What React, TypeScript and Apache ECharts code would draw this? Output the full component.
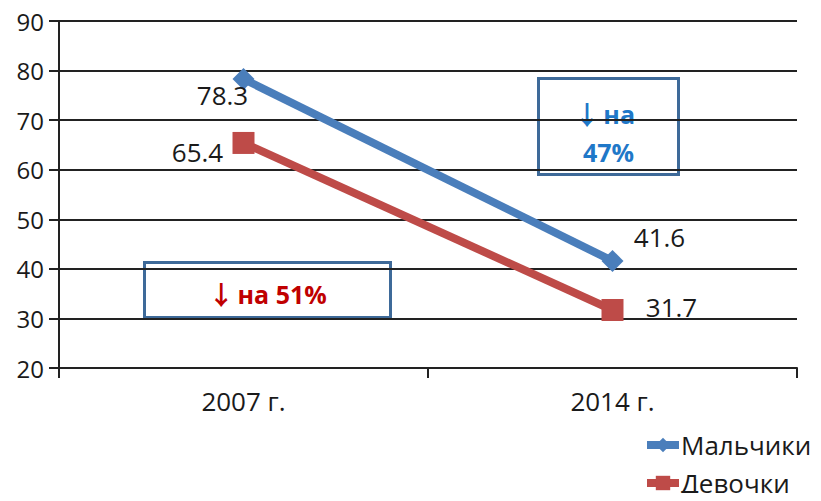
import React, { useEffect, useRef } from "react";
import * as echarts from "echarts";

const categories = ["2007 г.", "2014 г."];
const boys = [78.3, 41.6];
const girls = [65.4, 31.7];
const boysLabelOffsets = [[-21, 16], [47, -24]];
const girlsLabelOffsets = [[-46, 9], [59, -3]];
const yTicks = { min: 20, max: 90, interval: 10 };

const FONT = "'Open Sans', 'Noto Sans', sans-serif";
const ARROW_FONT = "'Noto Sans CJK SC', 'DejaVu Sans', sans-serif";

export default function App() {
  const ref = useRef<HTMLDivElement>(null);
  useEffect(() => {
    if (!ref.current) return;
    const chart = echarts.init(ref.current, null, { renderer: "svg" });
    const mk = (vals: number[], offs: number[][]) =>
      vals.map((v, i) => ({
        value: v,
        label: {
          show: true,
          position: "inside",
          offset: offs[i],
          formatter: String(v),
          color: "#1a1a1a",
          fontSize: 26,
          fontFamily: FONT,
        },
      }));
    const legendText = { fontSize: 26, color: "#1a1a1a", fontFamily: FONT, padding: [0, 0, 0, -3] };
    chart.setOption({
      animation: false,
      textStyle: { fontFamily: FONT },
      grid: { left: 59, right: 24, top: 21, bottom: 133, containLabel: false },
      xAxis: {
        type: "category",
        data: categories,
        boundaryGap: true,
        axisLine: { lineStyle: { color: "#222", width: 2 } },
        axisTick: { show: true, length: 10, lineStyle: { color: "#222", width: 2 } },
        axisLabel: { color: "#1a1a1a", fontSize: 26, margin: 20, fontFamily: FONT },
      },
      yAxis: {
        type: "value",
        min: yTicks.min,
        max: yTicks.max,
        interval: yTicks.interval,
        axisLine: { show: true, lineStyle: { color: "#222", width: 2 } },
        axisTick: { show: true, length: 10, lineStyle: { color: "#222", width: 2 } },
        axisLabel: { color: "#1a1a1a", fontSize: 24, margin: 15, fontFamily: FONT },
        splitLine: { show: true, lineStyle: { color: "#222", width: 2 } },
      },
      legend: [
        {
          orient: "vertical",
          left: 643,
          top: 432,
          padding: 0,
          itemWidth: 32,
          itemHeight: 18,
          lineStyle: { width: 8 },
          textStyle: legendText,
          data: ["Мальчики"],
        },
        {
          orient: "vertical",
          left: 643,
          top: 470,
          padding: 0,
          itemWidth: 32,
          itemHeight: 18,
          lineStyle: { width: 8 },
          textStyle: legendText,
          data: ["Девочки"],
        },
      ],
      series: [
        {
          name: "Мальчики",
          type: "line",
          data: mk(boys, boysLabelOffsets),
          symbol: "diamond",
          symbolSize: 22,
          lineStyle: { color: "#4A7EBB", width: 8 },
          itemStyle: { color: "#4A7EBB" },
          z: 3,
        },
        {
          name: "Девочки",
          type: "line",
          data: mk(girls, girlsLabelOffsets),
          symbol: "rect",
          symbolSize: 22,
          lineStyle: { color: "#BE4B48", width: 8 },
          itemStyle: { color: "#BE4B48" },
          z: 2,
        },
      ],
      graphic: [
        {
          type: "group",
          left: 537,
          top: 77,
          children: [
            {
              type: "rect",
              shape: { x: 0, y: 0, width: 140, height: 96 },
              style: { fill: "#fff", stroke: "#3E6A99", lineWidth: 3 },
            },
            {
              type: "text",
              style: {
                x: 66,
                y: 35,
                text: "{a|↓} {b|на}",
                align: "center",
                verticalAlign: "middle",
                rich: {
                  a: { fontFamily: ARROW_FONT, fontSize: 26, fill: "#1F78C8", fontWeight: "bold" },
                  b: { fontFamily: FONT, fontSize: 25, fill: "#1F78C8", fontWeight: "bold" },
                },
              },
            },
            {
              type: "text",
              style: {
                x: 70,
                y: 73,
                text: "47%",
                align: "center",
                verticalAlign: "middle",
                fill: "#1F78C8",
                font: `bold 25px ${FONT}`,
              },
            },
          ],
        },
        {
          type: "group",
          left: 143,
          top: 261,
          children: [
            {
              type: "rect",
              shape: { x: 0, y: 0, width: 246, height: 55 },
              style: { fill: "#fff", stroke: "#3E6A99", lineWidth: 3 },
            },
            {
              type: "text",
              style: {
                x: 123,
                y: 31,
                text: "{a|↓} {b|на 51%}",
                align: "center",
                verticalAlign: "middle",
                rich: {
                  a: { fontFamily: ARROW_FONT, fontSize: 26, fill: "#C00000", fontWeight: "bold" },
                  b: { fontFamily: FONT, fontSize: 25, fill: "#C00000", fontWeight: "bold" },
                },
              },
            },
          ],
        },
      ],
    });
    return () => chart.dispose();
  }, []);
  return <div ref={ref} style={{ width: 821, height: 501, margin: -8 }} />;
}
